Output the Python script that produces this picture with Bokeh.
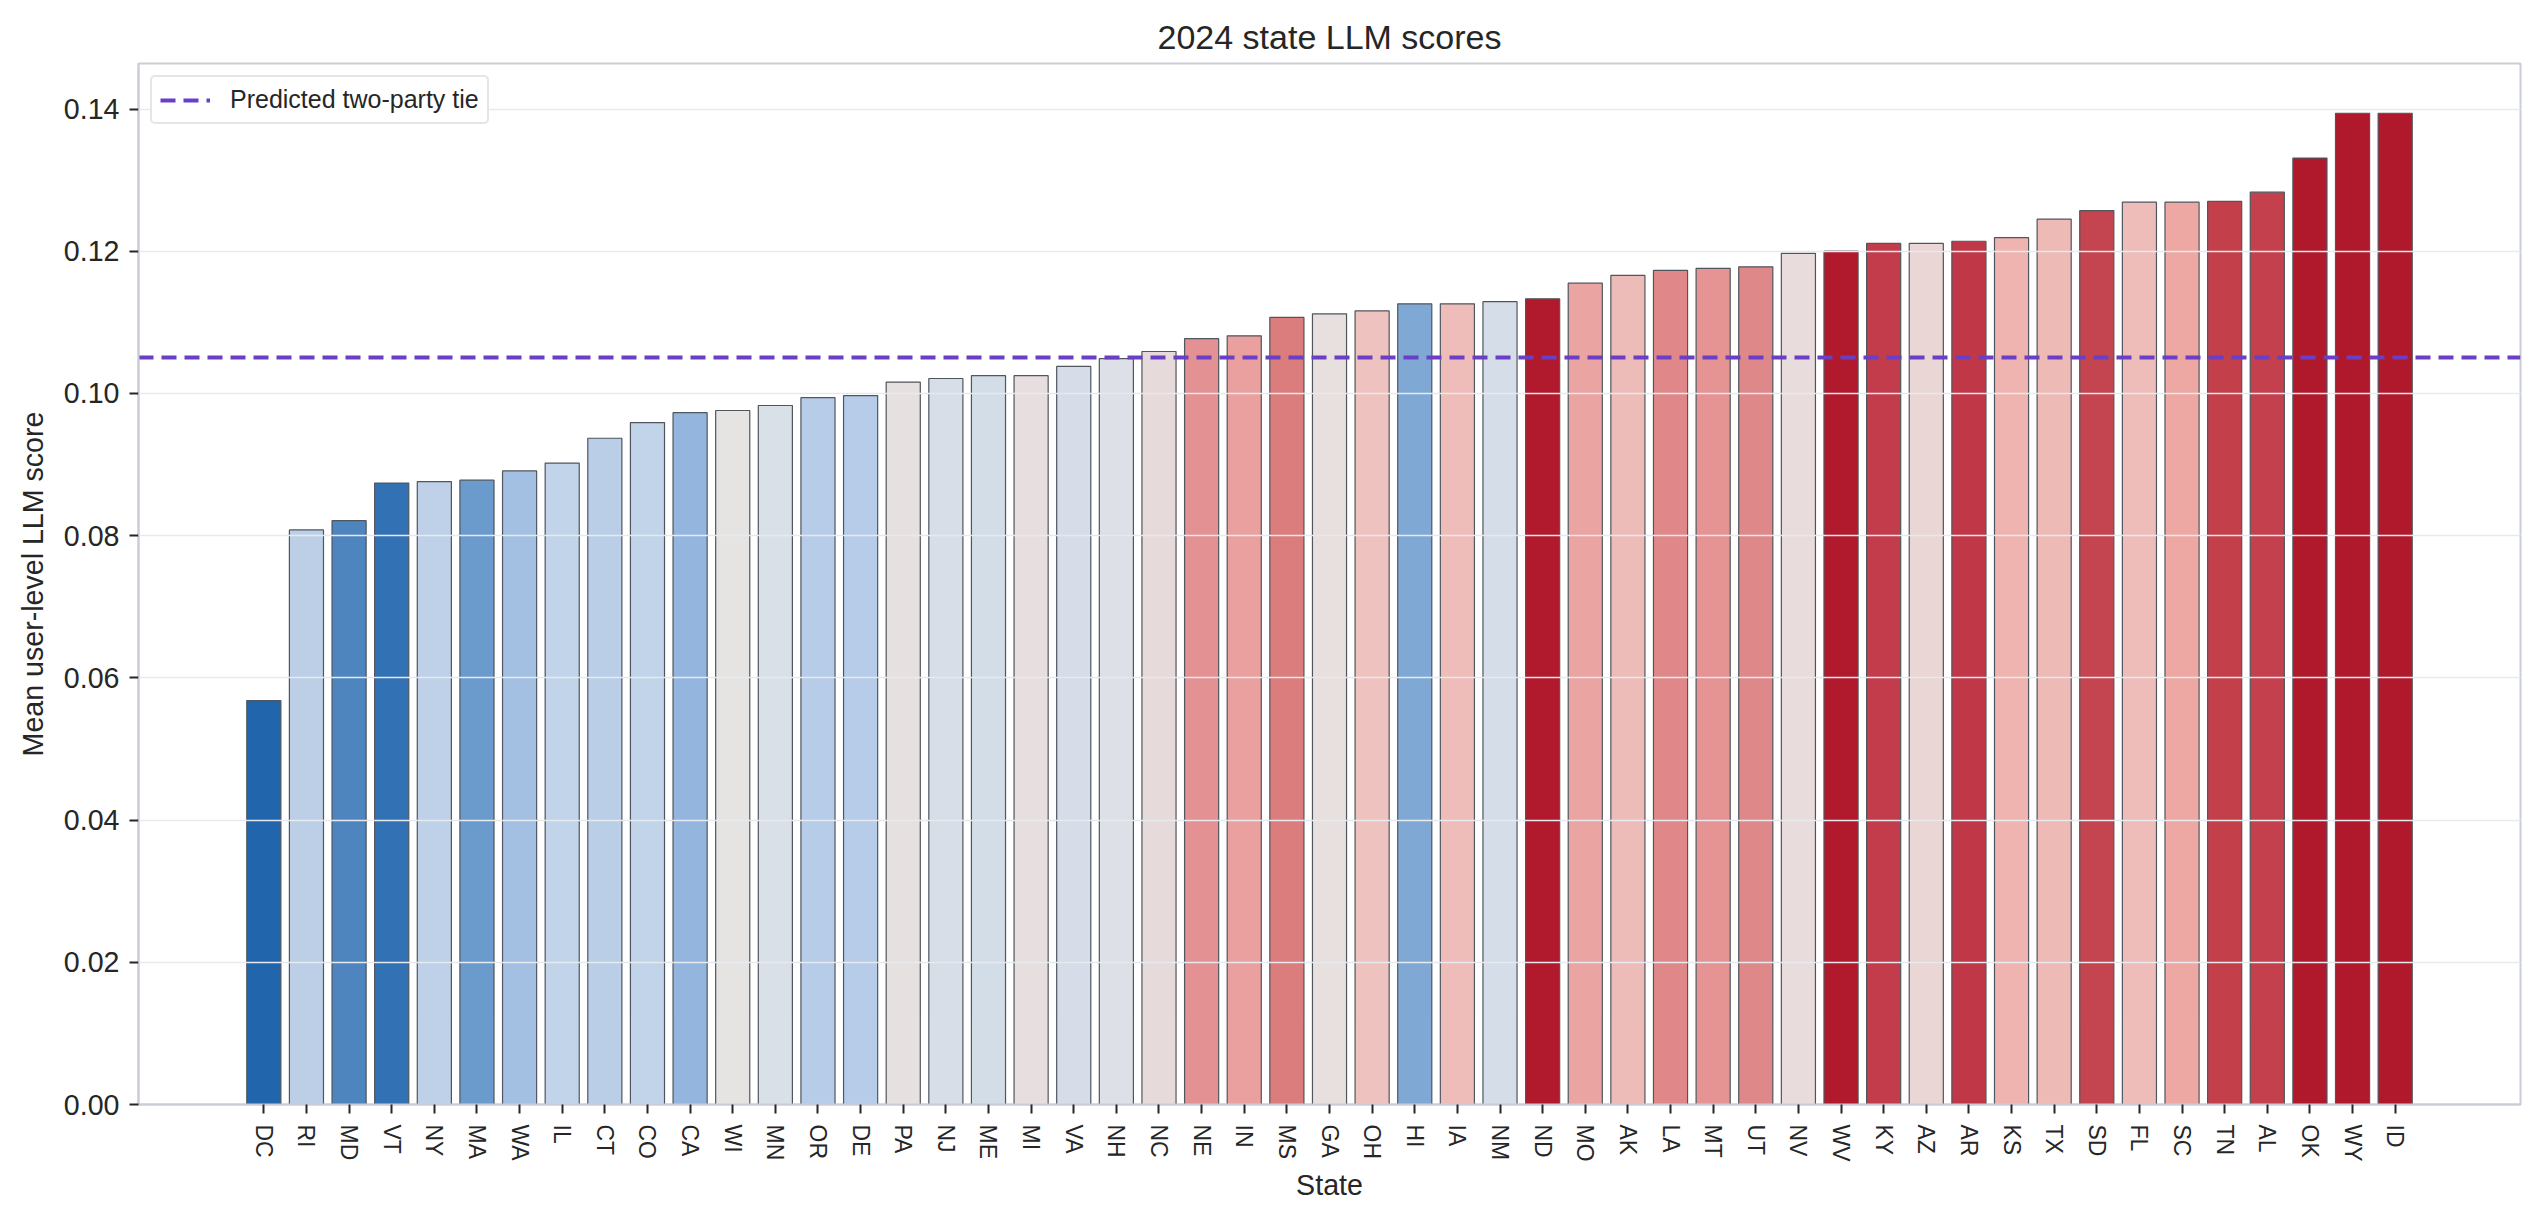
import numpy as np
from bokeh.embed import file_html
from bokeh.models import ColumnDataSource, FixedTicker, Range1d, NumeralTickFormatter
from bokeh.plotting import figure
from bokeh.resources import INLINE

# state scores, sorted ascending
states = ["DC", "RI", "MD", "VT", "NY", "MA", "WA", "IL", "CT", "CO", "CA", "WI", "MN", "OR", "DE",
          "PA", "NJ", "ME", "MI", "VA", "NH", "NC", "NE", "IN", "MS", "GA", "OH", "HI", "IA", "NM",
          "ND", "MO", "AK", "LA", "MT", "UT", "NV", "WV", "KY", "AZ", "AR", "KS", "TX", "SD", "FL",
          "SC", "TN", "AL", "OK", "WY", "ID"]
scores = [0.0568, 0.0808, 0.0821, 0.0874, 0.0876, 0.0878, 0.0891, 0.0902, 0.0937, 0.0959, 0.0973,
          0.0976, 0.0983, 0.0994, 0.0997, 0.1016, 0.1021, 0.1025, 0.1025, 0.1038, 0.1049, 0.1059,
          0.1077, 0.1081, 0.1107, 0.1112, 0.1116, 0.1126, 0.1126, 0.1129, 0.1133, 0.1155, 0.1166,
          0.1173, 0.1176, 0.1178, 0.1197, 0.1200, 0.1211, 0.1211, 0.1214, 0.1219, 0.1245, 0.1257,
          0.1269, 0.1269, 0.1270, 0.1283, 0.1331, 0.1394, 0.1394]
bar_colors = ["#2166ac", "#bccfe7", "#4f85bf", "#3371b5", "#bfd1e8", "#6b9acc", "#a3c0e3", "#c2d4e9",
              "#bacee8", "#c2d4e9", "#94b5de", "#e5e4e3", "#d9e0e8", "#b7cce9", "#b7cce9", "#e7e0e0",
              "#d7dee8", "#d3dde8", "#e7dfdf", "#d6dde8", "#dde1e7", "#e7dada", "#e39192", "#e9a09f",
              "#db7d7d", "#e8dfdf", "#eec3bf", "#80a8d5", "#efbdb9", "#d5dde8", "#b1192c", "#eaa5a2",
              "#eebcb8", "#e08889", "#e69394", "#df888a", "#e8dcdc", "#b1192c", "#c23c4b", "#ead6d5",
              "#c03848", "#efb4af", "#eebab6", "#c4444f", "#eebdb9", "#eda8a4", "#c3404b", "#c3404c",
              "#b0192c", "#b0192c", "#b0192c"]
tie_score = 0.105
y_ticks = [0.0, 0.02, 0.04, 0.06, 0.08, 0.10, 0.12, 0.14]

FONT = "Liberation Sans"
TEXT = "#262626"
SPINE = "#c9ced6"

pos = np.arange(len(states))
source = ColumnDataSource(dict(x=pos, state=states, score=scores, color=bar_colors))

p = figure(frame_width=2382, frame_height=1041, output_backend="svg", toolbar_location=None,
           tools="", title="2024 state LLM scores",
           x_range=Range1d(-2.94, len(states) - 1 + 2.94), y_range=Range1d(0, 0.1464),
           min_border_left=138, min_border_top=63, min_border_bottom=98, min_border_right=5)

p.vbar(x="x", top="score", width=0.8, source=source, fill_color="color",
       line_color="#4f565e", line_width=1.2)

p.hspan(y=[tie_score], line_color="#6a3fc6", line_width=4, line_dash="15 8",
        legend_label="Predicted two-party tie")

# title
p.title.text_font = FONT
p.title.text_font_size = "34px"
p.title.text_font_style = "normal"
p.title.text_color = TEXT
p.title.align = "center"
p.title.standoff = 15

# grid on top of the bars, like the source
p.xgrid.grid_line_color = None
p.ygrid.grid_line_color = "#e6e9ed"
p.ygrid.grid_line_width = 1.6
p.ygrid.level = "guide"

p.outline_line_color = SPINE
p.outline_line_width = 2

# x axis
p.xaxis.ticker = FixedTicker(ticks=list(pos))
p.xaxis.major_label_overrides = {int(i): s for i, s in zip(pos, states)}
p.xaxis.major_label_orientation = "vertical"
p.xaxis.major_label_text_font_size = "23px"
p.xaxis.major_label_standoff = 11
p.xaxis.axis_label = "State"
p.xaxis.axis_label_standoff = 4

# y axis
p.yaxis.ticker = FixedTicker(ticks=y_ticks)
p.yaxis.formatter = NumeralTickFormatter(format="0.00")
p.yaxis.major_label_text_font_size = "28.6px"
p.yaxis.major_label_standoff = 10
p.yaxis.axis_label = "Mean user-level LLM score"
p.yaxis.axis_label_standoff = 12

for ax in (p.xaxis, p.yaxis):
    ax.axis_line_color = SPINE
    ax.axis_line_width = 2
    ax.major_tick_line_color = TEXT
    ax.major_tick_line_width = 2
    ax.major_tick_out = 9
    ax.major_tick_in = 0
    ax.minor_tick_line_color = None
    ax.major_label_text_font = FONT
    ax.major_label_text_color = TEXT
    ax.axis_label_text_font = FONT
    ax.axis_label_text_font_size = "28.6px"
    ax.axis_label_text_font_style = "normal"
    ax.axis_label_text_color = TEXT

# legend
p.legend.location = "top_left"
p.legend.margin = 12
p.legend.padding = 8
p.legend.spacing = 0
p.legend.label_height = 24
p.legend.glyph_height = 24
p.legend.label_text_font = FONT
p.legend.label_text_font_size = "25px"
p.legend.label_text_color = TEXT
p.legend.border_line_color = "#cccccc"
p.legend.border_line_width = 2
p.legend.border_radius = 5
p.legend.glyph_width = 50
p.legend.label_standoff = 20
p.legend.background_fill_alpha = 1.0

open("out.html", "w").write(file_html(p, INLINE))
